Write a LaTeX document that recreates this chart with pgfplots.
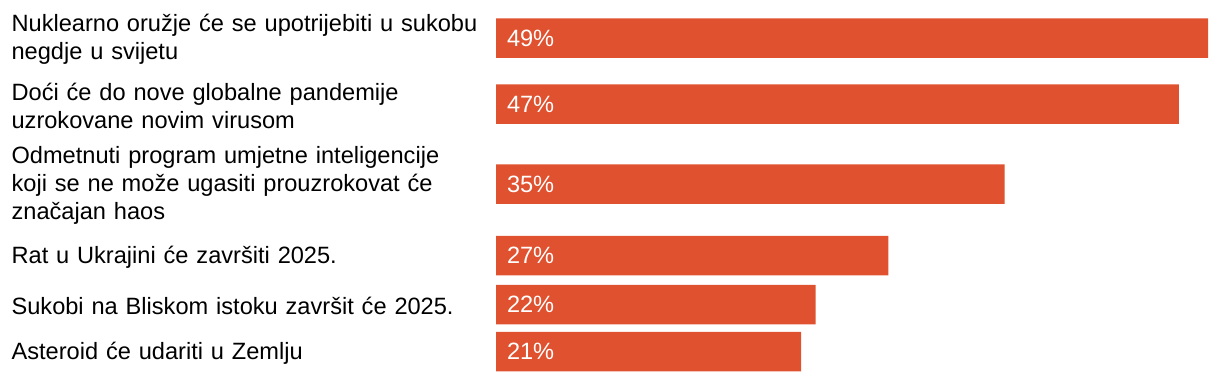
\documentclass[border=0pt]{standalone}
\usepackage{pgfplots}
\usepackage{pgfplotstable}
\pgfplotsset{compat=1.18}
\usepackage{fontspec}
\setmainfont{Liberation Sans}
\definecolor{barc}{HTML}{E0512F}
\pgfplotstableread{
y v
-38 49
-104 47
-184 35
-255.5 27
-304.5 22
-351.5 21
}\data
\begin{document}
\begin{tikzpicture}
\begin{axis}[name=ax, scale only axis, width=356pt, height=191pt,
  xmin=0, xmax=49, ymin=-382, ymax=0,
  axis line style={draw=none}, major tick length=0pt,
  xtick=\empty,
  /pgf/number format/assume math mode=true,
  ytick={-38,-104,-184,-255.5,-304.5,-351.5},
  yticklabels={{Nuklearno oružje će se upotrijebiti u sukobu\\negdje u svijetu},
    {Doći će do nove globalne pandemije\\uzrokovane novim virusom},
    {Odmetnuti program umjetne inteligencije\\koji se ne može ugasiti prouzrokovat će\\značajan haos},
    {Rat u Ukrajini će završiti 2025.},
    {Sukobi na Bliskom istoku završit će 2025.},
    {Asteroid će udariti u Zemlju}},
  yticklabel style={text width=240pt, align=left, inner sep=0pt, anchor=east,
    font=\fontsize{11.8}{14}\selectfont, text=black, xshift=-2pt, yshift=-0.8pt},
]
\addplot[xbar, bar width=19.75pt, fill=barc, draw=none] table[x=v, y=y] {\data};
\addplot[draw=none, mark=none, point meta=\thisrow{v},
  nodes near coords={\pgfmathprintnumber{\pgfplotspointmeta}\%},
  nodes near coords style={anchor=west, xshift=5.3pt, inner sep=0pt, text=white,
    font=\fontsize{11.8}{13.5}\selectfont}]
  table[x expr=0, y=y] {\data};
\end{axis}
\pgfresetboundingbox
\path ([xshift=-248pt]ax.south west) rectangle ([xshift=6pt]ax.north east);
\end{tikzpicture}
\end{document}
